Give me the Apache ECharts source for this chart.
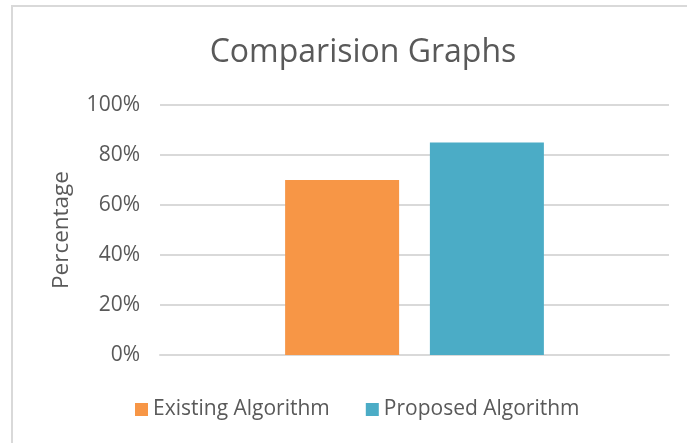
<!DOCTYPE html>
<html>
<head>
    <meta charset="UTF-8">
    <title>Comparision Graphs</title>
    <script src="https://cdn.jsdelivr.net/npm/echarts@6/dist/echarts.min.js"></script>
</head>
<body style="margin:0;">
<div id="chart" style="width:687px; height:443px;"></div>
<script>
    var categories = ['Comparision'];
    var seriesNames = ['Existing Algorithm', 'Proposed Algorithm'];
    var existingValues = [0.70];
    var proposedValues = [0.85];
    var yTicks = [0, 0.2, 0.4, 0.6, 0.8, 1.0];

    var textColor = '#595959';
    var fontName = 'Open Sans';

    var chart = echarts.init(document.getElementById('chart'), null, {renderer: 'canvas'});
    chart.setOption({
        backgroundColor: '#ffffff',
        animation: false,
        graphic: [{
            type: 'rect',
            shape: {x: 12, y: 6, width: 700, height: 460},
            style: {fill: 'none', stroke: '#d9d9d9', lineWidth: 2},
            silent: true
        }],
        title: {
            text: 'Comparision Graphs',
            left: 358,
            textAlign: 'center',
            top: 32,
            textStyle: {color: textColor, fontFamily: fontName, fontSize: 32, fontWeight: 'normal'}
        },
        legend: {
            data: seriesNames,
            top: 394,
            left: 130,
            itemWidth: 13,
            itemHeight: 13,
            itemGap: 36,
            icon: 'rect',
            textStyle: {color: textColor, fontFamily: fontName, fontSize: 21}
        },
        grid: {left: 160, right: 18, top: 105, bottom: 88},
        xAxis: {
            type: 'category',
            data: categories,
            axisLine: {show: true, lineStyle: {color: '#d9d9d9', width: 2}},
            axisTick: {show: false},
            axisLabel: {show: false}
        },
        yAxis: {
            type: 'value',
            min: yTicks[0],
            max: yTicks[yTicks.length - 1],
            interval: 0.2,
            name: 'Percentage',
            nameLocation: 'middle',
            nameGap: 87,
            nameTextStyle: {color: textColor, fontFamily: fontName, fontSize: 22.5},
            axisLine: {show: false},
            axisTick: {show: false},
            axisLabel: {
                color: textColor, fontFamily: fontName, fontSize: 21, margin: 20,
                formatter: function (v) { return Math.round(v * 100) + '%'; }
            },
            splitLine: {lineStyle: {color: '#d9d9d9', width: 2}}
        },
        series: [{
            name: seriesNames[0],
            type: 'bar',
            data: existingValues,
            barWidth: 114,
            barGap: '27%',
            itemStyle: {color: '#f79646'}
        }, {
            name: seriesNames[1],
            type: 'bar',
            data: proposedValues,
            barWidth: 114,
            itemStyle: {color: '#4bacc6'}
        }]
    });
</script>
</body>
</html>
